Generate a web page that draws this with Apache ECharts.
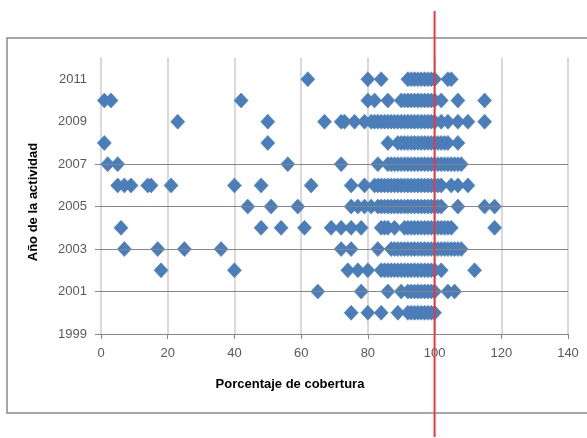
<!DOCTYPE html>
<html><head><meta charset="utf-8">
<script src="https://cdn.jsdelivr.net/npm/echarts@6/dist/echarts.min.js"></script>
<style>html,body{margin:0;padding:0;background:#fff}#c{width:587px;height:438px}</style>
</head><body><div id="c"></div>
<script>
// ---- data ----
const cov2011 = [62, 80, 84, 92, 93, 94, 95, 96, 97, 98, 99, 100, 104, 105];
const cov2010 = [1, 3, 42, 80, 82, 86, 90, 91, 92, 93, 94, 95, 96, 97, 98, 99, 100, 102, 107, 115];
const cov2009 = [23, 50, 67, 72, 73, 76, 79, 81, 82, 83, 84, 85, 86, 87, 88, 89, 90, 91, 92, 93, 94, 95, 96, 97, 98, 99, 100, 102, 104, 107, 110, 115];
const cov2008 = [1, 50, 86, 89, 90, 91, 92, 93, 94, 95, 96, 97, 98, 99, 100, 101, 102, 103, 104, 107];
const cov2007 = [2, 5, 56, 72, 83, 86, 87, 88, 89, 90, 91, 92, 93, 94, 95, 96, 97, 98, 99, 100, 101, 102, 103, 104, 105, 106, 107, 108];
const cov2006 = [5, 7, 9, 14, 15, 21, 40, 48, 63, 75, 79, 82, 83, 84, 85, 86, 87, 88, 89, 90, 91, 92, 93, 94, 95, 96, 97, 98, 99, 100, 101, 102, 105, 107, 110];
const cov2005 = [44, 51, 59, 75, 77, 79, 81, 83, 84, 85, 86, 87, 88, 89, 90, 91, 92, 93, 94, 95, 96, 97, 98, 99, 100, 101, 102, 107, 115, 118];
const cov2004 = [6, 48, 54, 61, 69, 72, 75, 78, 84, 85, 86, 88, 91, 92, 93, 94, 95, 96, 97, 98, 99, 100, 101, 102, 103, 104, 105, 118];
const cov2003 = [7, 17, 25, 36, 72, 75, 83, 87, 88, 89, 90, 91, 92, 93, 94, 95, 96, 97, 98, 99, 100, 101, 102, 103, 104, 105, 106, 107, 108];
const cov2002 = [18, 40, 74, 77, 80, 84, 85, 86, 87, 88, 89, 90, 91, 92, 93, 94, 95, 96, 97, 98, 99, 100, 102, 112];
const cov2001 = [65, 78, 86, 90, 92, 93, 94, 95, 96, 97, 98, 99, 100, 104, 106];
const cov2000 = [75, 80, 84, 89, 92, 93, 94, 95, 96, 97, 98, 99, 100];

const years = [2000, 2001, 2002, 2003, 2004, 2005, 2006, 2007, 2008, 2009, 2010, 2011];
const coverageByYear = [cov2000, cov2001, cov2002, cov2003, cov2004, cov2005, cov2006, cov2007, cov2008, cov2009, cov2010, cov2011];
const xTickValues = [0, 20, 40, 60, 80, 100, 120, 140];
const yLabelYears = [1999, 2001, 2003, 2005, 2007, 2009, 2011];
const yTickYears = [1999, 2001, 2003, 2005, 2007];
const gridYears = [2001, 2003, 2005, 2007];
const refCoverage = 100;
const xTitle = 'Porcentaje de cobertura';
const yTitle = 'Año de la actividad';

// ---- build ----
const points = [];
years.forEach((y, i) => coverageByYear[i].forEach(x => points.push([x, y])));

const chart = echarts.init(document.getElementById('c'), null, {renderer: 'canvas'});
const labelFont = {fontFamily: '"Liberation Sans", Arial, sans-serif', fontSize: 13, color: '#595959', formatter: v => String(v)};

chart.setOption({
  animation: false,
  backgroundColor: '#fff',
  grid: {left: 101, right: 19, top: 58, bottom: 104, containLabel: false, outerBoundsMode: 'none'},
  xAxis: {
    type: 'value', min: 0, max: 140, interval: 20,
    axisLine: {show: true, onZero: false, lineStyle: {color: '#868686', width: 1}},
    axisTick: {show: true, length: 5, lineStyle: {color: '#868686'}, customValues: xTickValues},
    axisLabel: Object.assign({margin: 13, customValues: xTickValues}, labelFont),
    splitLine: {show: true, lineStyle: {color: '#d9d9d9', width: 2}}
  },
  yAxis: {
    type: 'value', min: 1999, max: 2012,
    axisLine: {show: true, lineStyle: {color: '#d9d9d9', width: 2}},
    axisTick: {show: true, length: 6, lineStyle: {color: '#868686'}, customValues: yTickYears},
    axisLabel: Object.assign({margin: 14, customValues: yLabelYears}, labelFont),
    splitLine: {show: false}
  },
  series: [
    {
      type: 'scatter', data: [], z: 1, silent: true,
      markLine: {
        silent: true, symbol: ['none', 'none'], label: {show: false},
        lineStyle: {color: '#868686', width: 1, type: 'solid'},
        data: gridYears.map(y => ({yAxis: y}))
      }
    },
    {
      type: 'scatter', data: points, z: 3,
      symbol: 'diamond', symbolSize: [14, 15],
      itemStyle: {color: '#4a7ebb', opacity: 1, borderWidth: 0.6, borderColor: '#4a7ebb'}
    }
  ],
  graphic: [
    {type: 'rect', id: 'frame', z: -10, shape: {x: 7, y: 38, width: 640, height: 375},
     style: {fill: 'none', stroke: '#8a8a8a', lineWidth: 1.5}},
    {type: 'text', id: 'xt', x: 290, y: 384, z: 10,
     style: {text: xTitle, font: 'bold 13px "Liberation Sans", Arial, sans-serif', fill: '#000', align: 'center', verticalAlign: 'middle'}},
    {type: 'text', id: 'yt', x: 33, y: 202, rotation: Math.PI / 2, z: 10,
     style: {text: yTitle, font: 'bold 13px "Liberation Sans", Arial, sans-serif', fill: '#000', align: 'center', verticalAlign: 'middle'}}
  ]
});

const refX = chart.convertToPixel({xAxisIndex: 0}, refCoverage);
chart.setOption({
  graphic: [
    {type: 'line', id: 'ref', z: 100, shape: {x1: refX, y1: 11, x2: refX, y2: 437},
     style: {stroke: '#e8383d', lineWidth: 2}}
  ]
});
</script></body></html>
